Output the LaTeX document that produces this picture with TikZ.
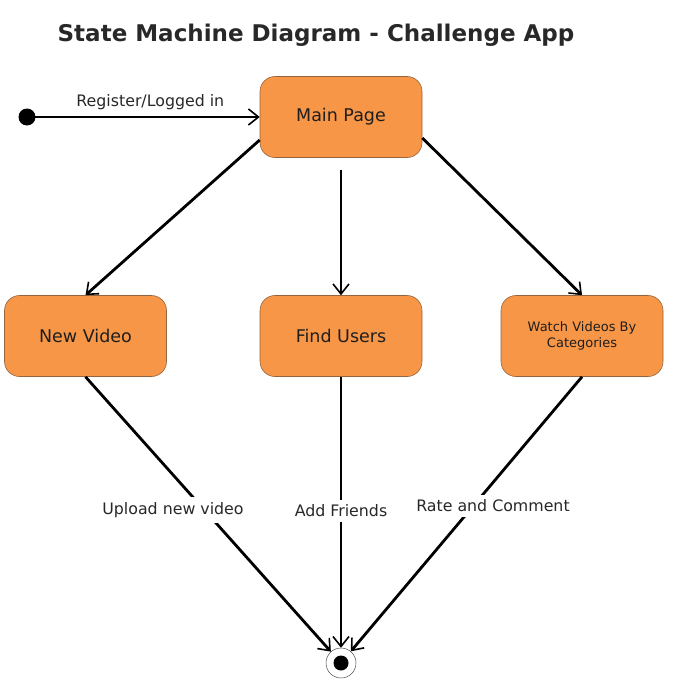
\documentclass[tikz,border=0pt]{standalone}
\usepackage{fontspec}
\setmainfont{DejaVu Sans}
\usetikzlibrary{arrows.meta}
\definecolor{boxfill}{RGB}{247,150,70}
\definecolor{boxline}{RGB}{150,100,60}
\definecolor{txt}{RGB}{30,30,30}
\begin{document}
\begin{tikzpicture}[x=1pt,y=-1pt,
  statebox/.style={draw=boxline,line width=0.6pt,fill=boxfill,rounded corners=15pt,
    minimum width=162pt,minimum height=81pt,inner sep=0pt,align=center,text=txt,
    font=\fontsize{17.5}{20}\selectfont},
  trans/.style={line width=2.8pt,-{Straight Barb[length=10pt,width=16pt,line width=1.6pt]}},
  lbl/.style={fill=white,inner xsep=2pt,inner ysep=5pt,text={rgb,255:red,40;green,40;blue,40},font=\fontsize{15.8}{18}\selectfont}]
\useasboundingbox (0,0) rectangle (682,688);
\node[font=\bfseries\fontsize{23}{27}\selectfont,text={rgb,255:red,40;green,40;blue,40}] (title) at (316,35) {State Machine Diagram - Challenge App};
\node[statebox] (main) at (341,117) {Main Page};
\node[statebox] (nv) at (85.5,336) {New Video};
\node[statebox] (fu) at (341,336) {Find Users};
\node[statebox,font=\fontsize{13}{16}\selectfont] (wv) at (582,336) {Watch Videos By\\Categories};
\node[circle,fill=black,minimum size=17pt,inner sep=0pt] (init) at (27,117) {};
\node[circle,draw=black!70,line width=0.5pt,fill=white,minimum size=30pt,inner sep=0pt] (fin) at (341,663) {};
\node[circle,fill=black,minimum size=15pt,inner sep=0pt] (fininner) at (341,663) {};
\coordinate (mainS) at (341,170);
\draw[trans] (init.center) -- (main.west) node[lbl,pos=0.53,above=4pt,fill=none,inner sep=2pt] {Register/Logged in};
\draw[trans] (main.west |- 0,140) -- (nv.north);
\draw[trans] (mainS) -- (fu.north);
\draw[trans] (main.east |- 0,138) -- (wv.north);
\draw[trans] (nv.south) -- (fin);
\draw[trans] (fu.south) -- (fin);
\draw[trans] (wv.south) -- (fin);
\node[lbl] (lup) at (173,510) {Upload new video};
\node[lbl] (laf) at (341,511) {Add Friends};
\node[lbl] (lrc) at (493,506) {Rate and Comment};
\end{tikzpicture}
\end{document}
